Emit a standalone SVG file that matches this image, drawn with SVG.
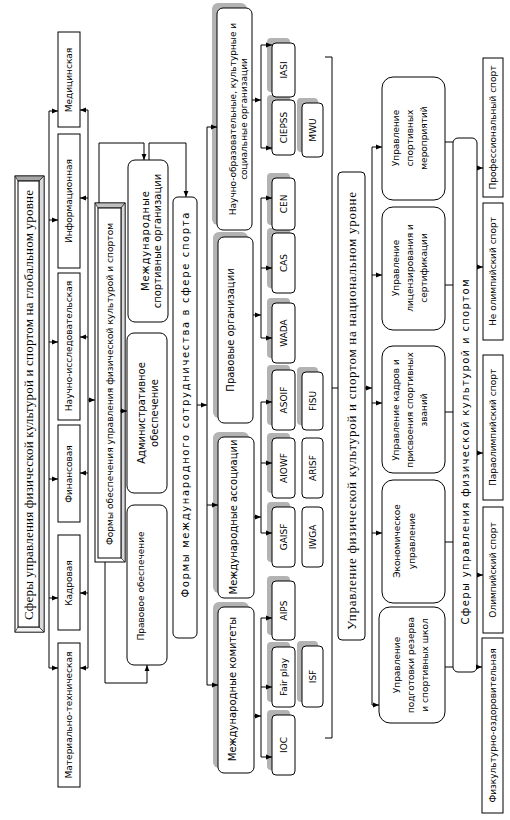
<svg xmlns="http://www.w3.org/2000/svg" width="510" height="820" viewBox="0 0 510 820">
<defs>
<marker id="ah" viewBox="0 0 10 10" refX="10" refY="5" markerWidth="6" markerHeight="6" orient="auto" markerUnits="userSpaceOnUse"><path d="M0,1 L10,5 L0,9 z" fill="#000"/></marker>
</defs>
<style>
.b{fill:#fff;stroke:#000;stroke-width:1}
.sh{fill:#b3b3b3}
.c{fill:none;stroke:#000;stroke-width:1}
.a{marker-end:url(#ah)}
text{font-family:"DejaVu Sans",sans-serif;font-size:9px;text-anchor:middle;dominant-baseline:central;fill:#000}
.s{font-family:"Liberation Serif",serif;font-size:13px}
.m{font-size:10px}
</style>
<rect width="510" height="820" fill="#fff"/>

<g id="global">
<rect x="15" y="176" width="29" height="456" fill="#fff" stroke="#000"/>
<polygon points="15,176 44,176 39,181 18,181" fill="#a6a6a6" stroke="#000" stroke-width="0.6"/>
<polygon points="44,176 44,632 39,627 39,181" fill="#d9d9d9" stroke="#000" stroke-width="0.6"/>
<polygon points="15,632 44,632 39,627 18,627" fill="#f2f2f2" stroke="#000" stroke-width="0.6"/>
<rect x="18" y="181" width="21" height="446" class="b"/>
<text class="s" transform="translate(28.5,405) rotate(-90)" textLength="430">Сферы управления физической культурой и спортом на глобальном уровне</text>
</g>

<g id="sph-med"><rect x="58" y="32" width="22" height="95" class="b"/><text transform="translate(69,80) rotate(-90)">Медицинская</text></g>
<g id="sph-inf"><rect x="58" y="134" width="22" height="134" class="b"/><text transform="translate(69,201) rotate(-90)">Информационная</text></g>
<g id="sph-nauch"><rect x="58" y="273" width="22" height="147" class="b"/><text transform="translate(69,346) rotate(-90)">Научно-исследовательская</text></g>
<g id="sph-fin"><rect x="58" y="425" width="22" height="97" class="b"/><text transform="translate(69,474) rotate(-90)">Финансовая</text></g>
<g id="sph-kadr"><rect x="58" y="535" width="22" height="95" class="b"/><text transform="translate(69,583) rotate(-90)">Кадровая</text></g>
<g id="sph-mat"><rect x="58" y="643" width="22" height="144" class="b"/><text transform="translate(69,715) rotate(-90)">Материально-техническая</text></g>

<g id="formy-obesp">
<rect x="95" y="203" width="30" height="359" fill="#fff" stroke="#000"/>
<polygon points="95,203 125,203 121,208 98,208" fill="#bfbfbf" stroke="#000" stroke-width="0.6"/>
<polygon points="125,203 125,562 121,558 121,208" fill="#d9d9d9" stroke="#000" stroke-width="0.6"/>
<rect x="98" y="208" width="23" height="350" class="b"/>
<text transform="translate(109.5,384) rotate(-90)" textLength="322">Формы обеспечения управления физической культурой и спортом</text>
</g>

<g id="mso"><rect x="128" y="160" width="40" height="162" rx="7" class="b"/>
<text class="m" transform="translate(145,241) rotate(-90)" textLength="100">Международные</text>
<text class="m" transform="translate(157,241) rotate(-90)">спортивные организации</text></g>
<g id="admin"><rect x="127" y="333" width="40" height="160" rx="7" class="b"/>
<text class="m" transform="translate(141,413) rotate(-90)">Административное</text>
<text class="m" transform="translate(154,413) rotate(-90)">обеспечение</text></g>
<g id="pravo-obesp"><rect x="127" y="505" width="40" height="160" rx="7" class="b"/>
<text transform="translate(141,586) rotate(-90)">Правовое обеспечение</text></g>
<g id="formy-mezhd"><rect x="173" y="197" width="24" height="441" rx="5" class="b"/>
<text class="m" transform="translate(185,405) rotate(-90)" textLength="385">Формы международного сотрудничества в сфере спорта</text></g>

<g id="shadows">
<rect x="212" y="3" width="35" height="222" rx="6" class="sh"/>
<rect x="213" y="232" width="35" height="186" rx="6" class="sh"/>
<rect x="213" y="432" width="36" height="161" rx="6" class="sh"/>
<rect x="213" y="602" width="36" height="166" rx="6" class="sh"/>
<rect x="267" y="38" width="23" height="54" rx="4" class="sh"/>
<rect x="267" y="95" width="23" height="55" rx="4" class="sh"/>
<rect x="267" y="173" width="23" height="52" rx="4" class="sh"/>
<rect x="267" y="228" width="23" height="60" rx="4" class="sh"/>
<rect x="267" y="298" width="23" height="60" rx="4" class="sh"/>
<rect x="267" y="365" width="23" height="60" rx="4" class="sh"/>
<rect x="267" y="433" width="23" height="60" rx="4" class="sh"/>
<rect x="267" y="502" width="23" height="60" rx="4" class="sh"/>
<rect x="267" y="576" width="23" height="59" rx="4" class="sh"/>
<rect x="267" y="642" width="23" height="60" rx="4" class="sh"/>
<rect x="267" y="710" width="23" height="60" rx="4" class="sh"/>
<rect x="297" y="98" width="21" height="54" rx="4" class="sh"/>
<rect x="297" y="367" width="21" height="58" rx="4" class="sh"/>
<rect x="297" y="641" width="21" height="61" rx="4" class="sh"/>
</g>

<g id="nauch-obr"><rect x="217" y="8" width="35" height="222" rx="6" class="b"/>
<text transform="translate(233,119) rotate(-90)">Научно-образовательные, культурные и</text>
<text transform="translate(244,119) rotate(-90)">социальные организации</text></g>
<g id="prav-org"><rect x="218" y="237" width="35" height="186" rx="6" class="b"/>
<text class="m" transform="translate(230,330) rotate(-90)">Правовые организации</text></g>
<g id="mezhd-assoc"><rect x="218" y="437" width="36" height="161" rx="6" class="b"/>
<text class="m" transform="translate(233,517) rotate(-90)">Международные ассоциации</text></g>
<g id="mezhd-kom"><rect x="218" y="607" width="36" height="166" rx="6" class="b"/>
<text class="m" transform="translate(232,689) rotate(-90)">Международные комитеты</text></g>

<g id="iasi"><rect x="272" y="43" width="23" height="54" rx="4" class="b"/><text transform="translate(283.5,70) rotate(-90)">IASI</text></g>
<g id="ciepss"><rect x="272" y="100" width="23" height="55" rx="4" class="b"/><text transform="translate(283.5,127.5) rotate(-90)">CIEPSS</text></g>
<g id="cen"><rect x="272" y="178" width="23" height="52" rx="4" class="b"/><text transform="translate(283.5,204) rotate(-90)">CEN</text></g>
<g id="cas"><rect x="272" y="233" width="23" height="60" rx="4" class="b"/><text transform="translate(283.5,263) rotate(-90)">CAS</text></g>
<g id="wada"><rect x="272" y="303" width="23" height="60" rx="4" class="b"/><text transform="translate(283.5,333) rotate(-90)">WADA</text></g>
<g id="asoif"><rect x="272" y="370" width="23" height="60" rx="4" class="b"/><text transform="translate(283.5,400) rotate(-90)">ASOIF</text></g>
<g id="aiowf"><rect x="272" y="438" width="23" height="60" rx="4" class="b"/><text transform="translate(283.5,468) rotate(-90)">AIOWF</text></g>
<g id="gaisf"><rect x="272" y="507" width="23" height="60" rx="4" class="b"/><text transform="translate(283.5,537) rotate(-90)">GAISF</text></g>
<g id="aips"><rect x="272" y="581" width="23" height="59" rx="4" class="b"/><text transform="translate(283.5,610.5) rotate(-90)">AIPS</text></g>
<g id="fairplay"><rect x="272" y="647" width="23" height="60" rx="4" class="b"/><text transform="translate(283.5,677) rotate(-90)">Fair play</text></g>
<g id="ioc"><rect x="272" y="715" width="23" height="60" rx="4" class="b"/><text transform="translate(283.5,745) rotate(-90)">IOC</text></g>
<g id="mwu"><rect x="302" y="103" width="21" height="54" rx="4" class="b"/><text transform="translate(312.5,130) rotate(-90)">MWU</text></g>
<g id="fisu"><rect x="302" y="372" width="21" height="58" rx="4" class="b"/><text transform="translate(312.5,401) rotate(-90)">FISU</text></g>
<g id="arisf"><rect x="302" y="438" width="21" height="60" rx="4" class="b"/><text transform="translate(312.5,468) rotate(-90)">ARISF</text></g>
<g id="iwga"><rect x="302" y="507" width="21" height="60" rx="4" class="b"/><text transform="translate(312.5,537) rotate(-90)">IWGA</text></g>
<g id="isf"><rect x="302" y="646" width="21" height="61" rx="4" class="b"/><text transform="translate(312.5,676.5) rotate(-90)">ISF</text></g>

<g id="national"><rect x="338" y="172" width="27" height="468" rx="4" class="b"/>
<text class="s" transform="translate(351.5,411) rotate(-90)" textLength="438">Управление физической культурой и спортом на национальном уровне</text></g>

<g id="n-meropr"><rect x="382" y="77" width="63" height="123" rx="11" class="b"/>
<text transform="translate(396,138) rotate(-90)">Управление</text>
<text transform="translate(410,138) rotate(-90)">спортивных</text>
<text transform="translate(424,138) rotate(-90)">мероприятий</text></g>
<g id="n-licenz"><rect x="382" y="207" width="63" height="123" rx="11" class="b"/>
<text transform="translate(396,268) rotate(-90)">Управление</text>
<text transform="translate(410,268) rotate(-90)">лицензирования и</text>
<text transform="translate(424,268) rotate(-90)">сертификации</text></g>
<g id="n-kadr"><rect x="382" y="346" width="63" height="127" rx="11" class="b"/>
<text transform="translate(396,410) rotate(-90)">Управление кадров и</text>
<text transform="translate(410,410) rotate(-90)">присвоения спортивных</text>
<text transform="translate(424,410) rotate(-90)">званий</text></g>
<g id="n-econ"><rect x="382" y="480" width="63" height="123" rx="11" class="b"/>
<text transform="translate(397,541) rotate(-90)">Экономическое</text>
<text transform="translate(412,541) rotate(-90)">управление</text></g>
<g id="n-rezerv"><rect x="379" y="607" width="66" height="116" rx="11" class="b"/>
<text transform="translate(397,665) rotate(-90)">Управление</text>
<text transform="translate(411,665) rotate(-90)">подготовки резерва</text>
<text transform="translate(425,665) rotate(-90)">и спортивных школ</text></g>

<g id="sfery-nat"><rect x="453" y="138" width="24" height="534" rx="5" class="b"/>
<text class="m" transform="translate(465,452) rotate(-90)" textLength="345">Сферы управления физической культурой и спортом</text></g>

<g id="prof"><rect x="483" y="58" width="20" height="139" class="b"/><text transform="translate(493,127.5) rotate(-90)">Профессиональный спорт</text></g>
<g id="neolimp"><rect x="483" y="203" width="20" height="137" class="b"/><text transform="translate(493,271.5) rotate(-90)">Не олимпийский спорт</text></g>
<g id="paraolimp"><rect x="483" y="355" width="20" height="145" class="b"/><text transform="translate(493,427.5) rotate(-90)">Параолимпийский спорт</text></g>
<g id="olimp"><rect x="483" y="507" width="20" height="126" class="b"/><text transform="translate(493,570) rotate(-90)">Олимпийский спорт</text></g>
<g id="fizk"><rect x="482" y="638" width="21" height="175" class="b"/><text transform="translate(492.5,725.5) rotate(-90)">Физкультурно-оздоровительная</text></g>

<g id="connectors">
<path class="c" d="M49,111 V668"/>
<path class="c a" d="M49,111 H58"/><path class="c a" d="M49,220 H58"/><path class="c a" d="M49,342 H58"/>
<path class="c a" d="M49,479 H58"/><path class="c a" d="M49,598 H58"/><path class="c a" d="M49,668 H58"/>
<path class="c" d="M88,110 V668"/>
<path class="c a" d="M88,110 H80"/><path class="c a" d="M88,198 H80"/><path class="c a" d="M88,337 H80"/>
<path class="c a" d="M88,473 H80"/><path class="c a" d="M88,593 H80"/><path class="c a" d="M88,668 H80"/>
<path class="c a" d="M88,400 H95"/>
<path class="c a" d="M99,203 V143 H144 V160"/>
<path class="c a" d="M149,160 V143 H186 V197"/>
<path class="c a" d="M105,562 V683 H147 V665"/>
<path class="c a" d="M120,411 H127"/>
<path class="c a" d="M197,405 H207"/>
<path class="c" d="M207,127 V685"/>
<path class="c a" d="M207,127 H217"/><path class="c a" d="M207,505 H218"/><path class="c a" d="M207,685 H218"/>
<path class="c" d="M261,45 V148"/><path class="c a" d="M252,100 H261"/>
<path class="c a" d="M261,45 H272"/><path class="c a" d="M261,148 H272"/>
<path class="c" d="M261,198 V338"/><path class="c a" d="M253,315 H261"/>
<path class="c a" d="M261,198 H272"/><path class="c a" d="M261,268 H272"/><path class="c a" d="M261,338 H272"/>
<path class="c" d="M261,402 V533"/><path class="c a" d="M254,517 H261"/>
<path class="c a" d="M261,402 H272"/><path class="c a" d="M261,463 H272"/><path class="c a" d="M261,533 H272"/>
<path class="c" d="M261,618 V757"/><path class="c a" d="M254,716 H261"/>
<path class="c a" d="M261,618 H272"/><path class="c a" d="M261,687 H272"/><path class="c a" d="M261,757 H272"/>
<path class="c" d="M325,57 H332 V738 H325"/><path class="c" d="M332,388 H338"/>
<path class="c" d="M372,147 V705"/><path class="c a" d="M365,388 H372"/>
<path class="c a" d="M372,147 H382"/><path class="c a" d="M372,275 H382"/><path class="c a" d="M372,403 H382"/>
<path class="c a" d="M372,533 H382"/><path class="c a" d="M372,705 H379"/>
<path class="c" d="M445,142 H453"/><path class="c" d="M445,285 H453"/><path class="c" d="M445,412 H453"/>
<path class="c" d="M445,542 H453"/><path class="c" d="M445,667 H453"/>
<path class="c a" d="M477,168 H483"/><path class="c a" d="M477,267 H483"/><path class="c a" d="M477,453 H483"/>
<path class="c a" d="M477,575 H483"/><path class="c a" d="M477,667 H482"/>
</g>
</svg>
